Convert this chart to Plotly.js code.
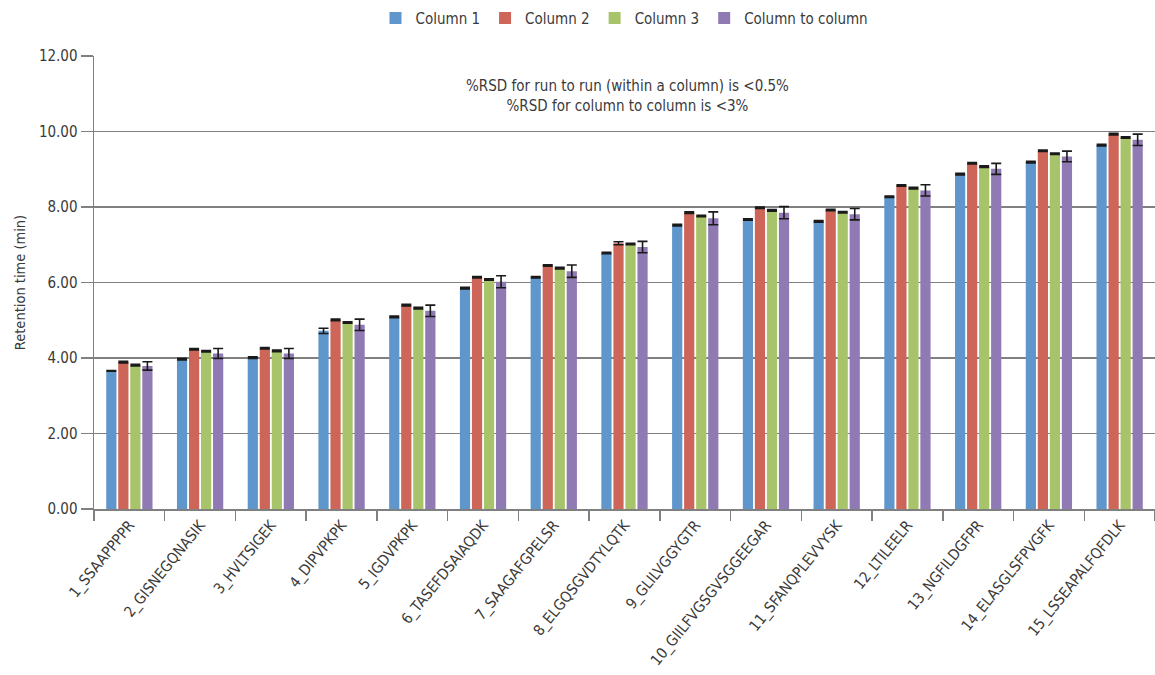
<!DOCTYPE html>
<html>
<head>
<meta charset="utf-8">
<script src="https://cdn.plot.ly/plotly-3.0.1.min.js"></script>
<style>html,body{margin:0;padding:0;background:#fff;}#chart{width:1155px;height:675px;}</style>
</head>
<body>
<div id="chart"></div>
<script>
const categories = ["1_SSAAPPPPR","2_GISNEGQNASIK","3_HVLTSIGEK","4_DIPVPKPK","5_IGDVPKPK","6_TASEFDSAIAQDK","7_SAAGAFGPELSR","8_ELGQSGVDTYLQTK","9_GLILVGGYGTR","10_GIILFVGSGVSGGEEGAR","11_SFANQPLEVVYSK","12_LTILEELR","13_NGFILDGFPR","14_ELASGLSFPVGFK","15_LSSEAPALFQFDLK"];
const column1 = [3.66,3.97,4.01,4.72,5.09,5.85,6.14,6.78,7.52,7.67,7.62,8.27,8.87,9.19,9.64];
const column2 = [3.89,4.23,4.26,5.01,5.40,6.14,6.45,7.04,7.85,7.98,7.92,8.57,9.16,9.49,9.93];
const column3 = [3.81,4.18,4.19,4.94,5.32,6.08,6.38,7.02,7.76,7.91,7.86,8.50,9.07,9.41,9.84];
const columnToColumn = [3.79,4.12,4.12,4.88,5.25,6.02,6.30,6.94,7.70,7.85,7.81,8.44,9.01,9.34,9.78];
const err1 = [0.01,0.02,0.02,0.07,0.02,0.02,0.02,0.02,0.02,0.02,0.02,0.02,0.02,0.02,0.02];
const err2 = [0.02,0.02,0.02,0.02,0.02,0.02,0.02,0.04,0.02,0.02,0.02,0.02,0.02,0.02,0.02];
const err3 = [0.02,0.02,0.02,0.02,0.02,0.02,0.02,0.02,0.02,0.02,0.02,0.02,0.02,0.02,0.02];
const errC = [0.11,0.13,0.13,0.15,0.15,0.16,0.165,0.15,0.17,0.16,0.15,0.15,0.145,0.14,0.15];
const seriesNames = ["Column 1","Column 2","Column 3","Column to column"];
const colors = ["#5f96cc","#cd6558","#a8c46a","#907ab4"];
const annotationLines = ["%RSD for run to run (within a column) is <0.5%","%RSD for column to column is <3%"];

const FONT = "'Liberation Sans Narrow','DejaVu Sans Condensed','Roboto',sans-serif";
const vals = [column1,column2,column3,columnToColumn];
const errs = [err1,err2,err3,errC];
const traces = vals.map((v,i)=>({
  type:'bar', x:categories, y:v, name:seriesNames[i],
  marker:{color:colors[i]},
  error_y:{type:'data', array:errs[i], visible:true, color:'#1a1a1a', thickness:1.6, width:5}
}));

const layout = {
  width:1155, height:675,
  margin:{l:94, r:0, t:56, b:166, autoexpand:false},
  paper_bgcolor:'#fff', plot_bgcolor:'#fff',
  font:{family:FONT, color:'#3a3a3a', size:15},
  barmode:'group', bargap:0.32, bargroupgap:0.15,
  showlegend:true,
  legend:{orientation:'h', x:0.5, xanchor:'center', xref:'paper', y:0.973, yref:'container', yanchor:'middle', font:{size:15, color:'#3a3a3a'}, itemwidth:30, traceorder:'normal'},
  xaxis:{
    type:'category', tickangle:-51, tickfont:{size:15, color:'#3a3a3a'},
    showline:true, linecolor:'#808080', linewidth:1.5, automargin:false,
    ticks:'outside', tickson:'boundaries', ticklen:10, tickcolor:'#808080', tickwidth:1.5,
    showgrid:false
  },
  yaxis:{
    range:[0,12], dtick:2, tickformat:'.2f', tickfont:{size:15, color:'#3a3a3a'},
    showline:true, linecolor:'#808080', linewidth:1.5, automargin:false,
    ticks:'outside', ticklen:12, tickcolor:'#808080', tickwidth:1.5,
    showgrid:true, gridcolor:'#808080', gridwidth:1.5, zeroline:false,
    title:{text:'Retention time (min)', font:{size:14.5, color:'#3a3a3a'}, standoff:10}
  },
  annotations:[{
    xref:'paper', yref:'y', x:0.503, y:10.94, xanchor:'center', yanchor:'middle',
    showarrow:false, align:'center',
    text:annotationLines.join('<br>'),
    font:{size:15, color:'#3a3a3a', family:FONT}
  }]
};
Plotly.newPlot('chart', traces, layout, {displayModeBar:false, staticPlot:true});
</script>
</body>
</html>
